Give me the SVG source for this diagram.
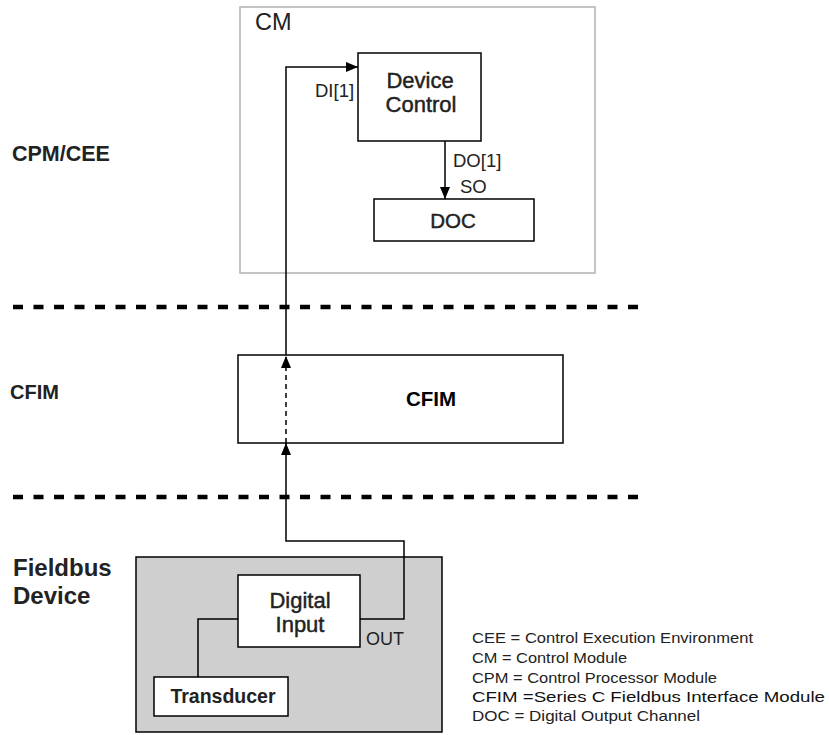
<svg xmlns="http://www.w3.org/2000/svg" width="829" height="735" viewBox="0 0 829 735">
<defs>
<style>
text{font-family:"Liberation Sans",Arial,sans-serif;fill:#1a1a1a}
.box{fill:#fff;stroke:#000;stroke-width:1.5}
.lbl{font-weight:bold;fill:#222}
.nd{font-size:22px;fill:#222;stroke:#222;stroke-width:0.45;text-anchor:middle}
.sm{font-size:18.5px;fill:#222}
.leg{font-size:14px;fill:#222}
.wire{fill:none;stroke:#000;stroke-width:1.5}
.sep{stroke:#000;stroke-width:4.5;stroke-dasharray:10 10.5}
</style>
<marker id="ah" viewBox="0 0 12 10" refX="12" refY="5" markerWidth="12" markerHeight="10" markerUnits="userSpaceOnUse" orient="auto">
<path d="M0,0 L12,5 L0,10 Z" fill="#000"/>
</marker>
</defs>
<rect width="829" height="735" fill="#fff"/>

<g id="layer-labels">
<text class="lbl" x="12" y="161" style="font-size:21.5px">CPM/CEE</text>
<text class="lbl" x="10" y="399" style="font-size:20px">CFIM</text>
<text class="lbl" x="13" y="576" style="font-size:24px">Fieldbus</text>
<text class="lbl" x="13" y="604" style="font-size:24px">Device</text>
</g>

<g id="separators">
<line class="sep" x1="13" y1="307" x2="645" y2="307"/>
<line class="sep" x1="13" y1="497" x2="645" y2="497"/>
</g>

<g id="cm">
<rect x="240" y="7" width="355" height="266" fill="none" stroke="#b0b0b0" stroke-width="1.5"/>
<text x="255" y="30" style="font-size:23.5px;fill:#222">CM</text>
</g>

<g id="device-control">
<rect class="box" x="358" y="53" width="123" height="88"/>
<text class="nd" x="420" y="88">Device</text>
<text class="nd" x="421" y="112">Control</text>
</g>

<g id="doc">
<rect class="box" x="374" y="199" width="160" height="42"/>
<text class="nd" x="453" y="228" style="font-size:20.5px">DOC</text>
</g>

<g id="cfim">
<rect class="box" x="238" y="355" width="325" height="88"/>
<text x="431" y="406" style="font-size:20.5px;font-weight:bold;text-anchor:middle;fill:#000">CFIM</text>
</g>

<g id="fieldbus-device">
<rect x="136" y="557" width="306" height="175" fill="#cfcfcf" stroke="#000" stroke-width="1.5"/>
</g>

<g id="digital-input">
<rect class="box" x="238" y="575" width="122" height="72"/>
<text class="nd" x="300" y="608">Digital</text>
<text class="nd" x="300" y="632">Input</text>
</g>

<g id="transducer">
<rect class="box" x="154" y="677" width="134" height="39"/>
<text x="223" y="703" style="font-size:19.5px;font-weight:bold;fill:#222;text-anchor:middle">Transducer</text>
</g>

<g id="connectors">
<path class="wire" d="M198,677 V619 H238"/>
<path class="wire" d="M360,619 H404 V541 H286 V443" marker-end="url(#ah)"/>
<path class="wire" d="M286,443 V356" stroke-dasharray="5 4" marker-end="url(#ah)"/>
<path class="wire" d="M286,355 V67 H358" marker-end="url(#ah)"/>
<path class="wire" d="M445,141 V199" marker-end="url(#ah)"/>
<text class="sm" x="315" y="97">DI[1]</text>
<text class="sm" x="453" y="167">DO[1]</text>
<text class="sm" x="460" y="193">SO</text>
<text x="366" y="645" style="font-size:18px;fill:#222">OUT</text>
</g>

<g id="legend">
<text class="leg" x="472" y="643" textLength="281" lengthAdjust="spacingAndGlyphs">CEE = Control Execution Environment</text>
<text class="leg" x="472" y="663" textLength="155" lengthAdjust="spacingAndGlyphs">CM = Control Module</text>
<text class="leg" x="472" y="683" textLength="245" lengthAdjust="spacingAndGlyphs">CPM = Control Processor Module</text>
<text x="472" y="702" style="font-size:15px;fill:#111" textLength="353" lengthAdjust="spacingAndGlyphs">CFIM =Series  C  Fieldbus  Interface Module</text>
<text class="leg" x="472" y="721" textLength="228" lengthAdjust="spacingAndGlyphs">DOC = Digital Output Channel</text>
</g>
</svg>
